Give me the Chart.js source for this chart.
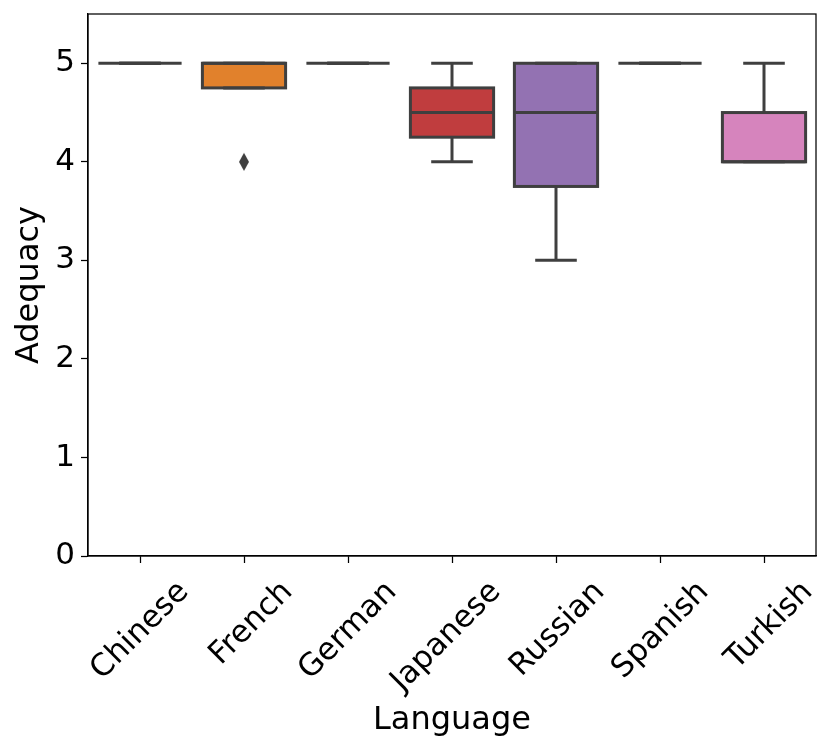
<!DOCTYPE html>
<html>
<head>
<meta charset="utf-8">
<script src="https://cdn.jsdelivr.net/npm/chart.js@4.4.0/dist/chart.umd.min.js"></script>
<style>
  html, body { margin: 0; padding: 0; background: #fff; }
</style>
</head>
<body>
<canvas id="grafica" width="831" height="752"></canvas>
<script>
// datos de la gráfica
const idiomas = ['Chinese', 'French', 'German', 'Japanese', 'Russian', 'Spanish', 'Turkish'];
const minimos = [5, 4.75, 5, 4, 3, 5, 4];
const q1s = [5, 4.75, 5, 4.25, 3.75, 5, 4];
const medianas = [5, 5, 5, 4.5, 4.5, 5, 4];
const q3s = [5, 5, 5, 4.75, 5, 5, 4.5];
const maximos = [5, 5, 5, 5, 5, 5, 5];
const atipicos = [{ x: 'French', y: 4 }];
const colores = ['#3274a1', '#e1812c', '#3a923a', '#c03d3e', '#9372b2', '#845b53', '#d684bd'];

const LINEA = '#3f3f3f';
const FUENTE = "'DejaVu Sans', sans-serif";

// rombo fino para los valores atípicos
function crearRombo() {
    const c = document.createElement('canvas');
    c.width = 12; c.height = 20;
    const g = c.getContext('2d');
    g.fillStyle = LINEA;
    g.beginPath();
    g.moveTo(6, 1); g.lineTo(11, 10); g.lineTo(6, 19); g.lineTo(1, 10);
    g.closePath();
    g.fill();
    return c;
}

// contorno de cajas, bigotes, tapas, medianas y marco
const cajasPlugin = {
    id: 'cajas',
    afterDatasetsDraw(chart) {
        const ctx = chart.ctx;
        const xs = chart.scales.x, ys = chart.scales.y;
        const paso = xs.getPixelForValue(1) - xs.getPixelForValue(0);
        const barras = chart.getDatasetMeta(0).data;
        const seg = (x1, y1, x2, y2) => {
            ctx.beginPath(); ctx.moveTo(x1, y1); ctx.lineTo(x2, y2); ctx.stroke();
        };
        ctx.save();
        ctx.strokeStyle = LINEA;
        ctx.lineWidth = 3;
        idiomas.forEach((idioma, i) => {
            const cx = xs.getPixelForValue(i);
            const yMin = ys.getPixelForValue(minimos[i]);
            const yMax = ys.getPixelForValue(maximos[i]);
            const yQ1 = ys.getPixelForValue(q1s[i]);
            const yQ3 = ys.getPixelForValue(q3s[i]);
            const yMed = ys.getPixelForValue(medianas[i]);
            const b = barras[i];
            if (q3s[i] > q1s[i]) {
                ctx.strokeRect(b.x - b.width / 2, yQ3, b.width, yQ1 - yQ3);
            }
            if (minimos[i] < q1s[i]) seg(cx, yQ1, cx, yMin);
            if (maximos[i] > q3s[i]) seg(cx, yQ3, cx, yMax);
            seg(cx - paso * 0.2, yMin, cx + paso * 0.2, yMin);
            seg(cx - paso * 0.2, yMax, cx + paso * 0.2, yMax);
            seg(b.x - b.width / 2, yMed, b.x + b.width / 2, yMed);
        });
        const a = chart.chartArea;
        ctx.strokeStyle = '#000';
        ctx.lineWidth = 1.25;
        ctx.strokeRect(a.left, a.top, a.right - a.left, a.bottom - a.top);
        ctx.restore();
    }
};

const canvas = document.getElementById('grafica');
new Chart(canvas, {
    type: 'bar',
    data: {
        labels: idiomas,
        datasets: [
            {
                label: 'Cajas',
                data: idiomas.map((_, i) => [q1s[i], q3s[i]]),
                backgroundColor: colores,
                borderWidth: 0,
                barPercentage: 0.8,
                categoryPercentage: 1
            },
            {
                type: 'line',
                label: 'Atípicos',
                data: atipicos,
                showLine: false,
                pointStyle: crearRombo(),
                pointRadius: 8
            }
        ]
    },
    options: {
        responsive: false,
        animation: false,
        layout: { padding: { top: 14, right: 15, left: 0, bottom: 0 } },
        plugins: { legend: { display: false }, tooltip: { enabled: false } },
        scales: {
            x: {
                grid: { display: true, drawOnChartArea: false, offset: false, tickLength: 7, tickWidth: 1.25, tickColor: '#000' },
                border: { display: true, color: '#000', width: 1.25 },
                ticks: {
                    font: { family: FUENTE, size: 31 }, color: '#000',
                    minRotation: 45, maxRotation: 45, autoSkip: false,
                    labelOffset: 44, padding: 11
                },
                title: { display: true, text: 'Language', color: '#000', font: { family: FUENTE, size: 32 }, padding: { top: 0, bottom: 12 } },
                afterFit(s) { s.height = 196; s.paddingLeft = 0; s.paddingRight = 0; }
            },
            y: {
                min: 0, max: 5.5,
                grid: { display: true, drawOnChartArea: false, tickLength: 7, tickWidth: 1.25, tickColor: '#000' },
                border: { display: true, color: '#000', width: 1.25 },
                ticks: { stepSize: 1, includeBounds: false, font: { family: FUENTE, size: 31 }, color: '#000', padding: 6 },
                title: { display: true, text: 'Adequacy', color: '#000', font: { family: FUENTE, size: 32 }, padding: { top: 10, bottom: 0 } },
                afterFit(s) { s.width = 88; s.paddingTop = 0; s.paddingBottom = 0; }
            }
        }
    },
    plugins: [cajasPlugin]
});
</script>
</body>
</html>
